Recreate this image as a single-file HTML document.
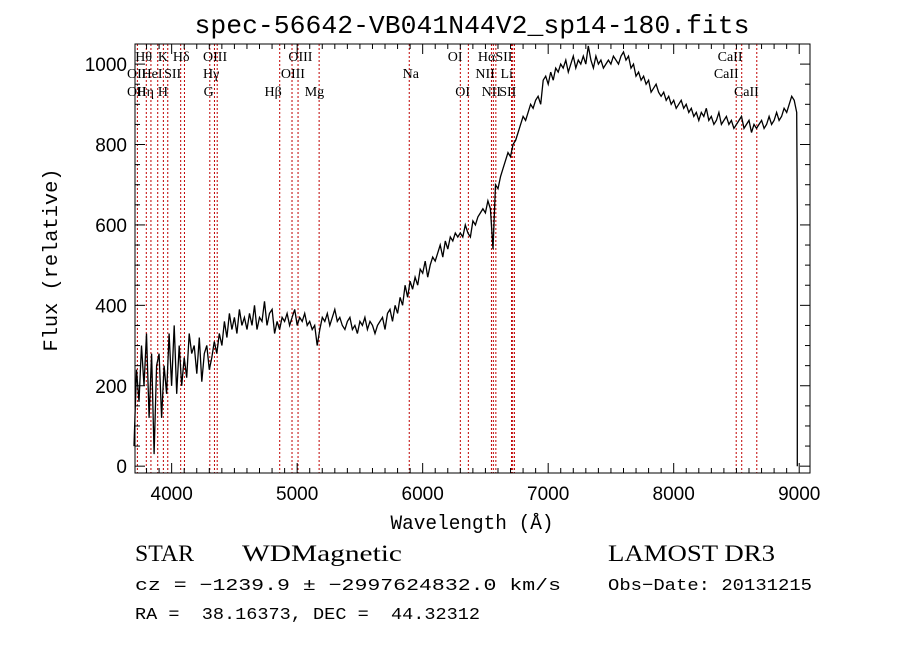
<!DOCTYPE html>
<html><head><meta charset="utf-8"><style>
html,body{margin:0;padding:0;background:#fff;}
svg{display:block;}
</style></head><body>
<svg id="chart" width="900" height="649" xmlns="http://www.w3.org/2000/svg" font-family="Liberation Mono, monospace">
<rect width="900" height="649" fill="#fff"/>
<text x="472" y="33" font-size="26" text-anchor="middle" textLength="555" lengthAdjust="spacingAndGlyphs">spec-56642-VB041N44V2_sp14-180.fits</text>
<g id="lines"></g>
<g id="labels" font-family="Liberation Serif, serif" font-size="14"></g>
<g id="axes"></g>
<path id="spec" fill="none" stroke="#000" stroke-width="1.3"/>
<rect x="135" y="44" width="675" height="429" fill="none" stroke="#000" stroke-width="1"/>
<text transform="translate(57,260) rotate(-90)" font-size="20" text-anchor="middle" textLength="183" lengthAdjust="spacingAndGlyphs">Flux (relative)</text>
<text x="472" y="529" font-size="20" text-anchor="middle" textLength="163" lengthAdjust="spacingAndGlyphs">Wavelength (Å)</text>
<text x="135" y="561" font-family="Liberation Serif, serif" font-size="23" textLength="59" lengthAdjust="spacingAndGlyphs">STAR</text>
<text x="242" y="561" font-family="Liberation Serif, serif" font-size="23" textLength="160" lengthAdjust="spacingAndGlyphs">WDMagnetic</text>
<text x="608" y="561" font-family="Liberation Serif, serif" font-size="23" textLength="167" lengthAdjust="spacingAndGlyphs">LAMOST DR3</text>
<text x="135" y="590" font-size="17" textLength="426" lengthAdjust="spacingAndGlyphs">cz = −1239.9 ± −2997624832.0 km/s</text>
<text x="608" y="590" font-size="17" textLength="204" lengthAdjust="spacingAndGlyphs">Obs−Date: 20131215</text>
<text x="135" y="619" font-size="17" textLength="345" lengthAdjust="spacingAndGlyphs" xml:space="preserve" style="white-space:pre">RA =  38.16373, DEC =  44.32312</text>
</svg>
<script>
const xTicks=[4000,5000,6000,7000,8000,9000];
const yTicks=[0,200,400,600,800,1000];
const lineWaves=[3727,3798,3835,3889,3934,3969,4072,4102,4304,4341,4363,4861,4959,5007,5175,5893,6300,6364,6548,6563,6583,6708,6717,6731,8498,8542,8662];
const labelText=["Hθ","K","Hδ","OIII","OIII","OI","HαSII","CaII","OII","HeI","SII","Hγ","OIII","Na","NII","Li","CaII","OII","Hη","H","G","Hβ","Mg","OI","NII","SII","CaII"];
const labelWave=[3710,3890,4010,4250,4930,6200,6440,8350,3600,3760,3940,4250,4870,5840,6420,6620,8320,3600,3720,3890,4255,4740,5060,6260,6470,6610,8480];
const labelRow=[0,0,0,0,0,0,0,0,1,1,1,1,1,1,1,1,1,2,2,2,2,2,2,2,2,2,2];
const waveStart=3700, waveStep=20;
const flux=[50,240,160,300,200,330,120,280,30,250,
280,120,250,180,330,200,350,180,300,200,
270,220,330,280,300,230,320,210,280,300,
240,270,310,280,330,300,360,320,380,340,
370,330,390,350,370,340,380,350,400,340,
370,360,410,350,380,390,330,360,340,370,
360,380,350,370,390,350,370,360,380,350,
360,340,350,300,340,370,360,380,350,370,
390,360,370,350,340,360,370,340,350,330,
360,350,370,340,360,350,330,350,360,370,
340,380,390,360,400,380,420,400,450,420,
460,440,470,450,490,480,510,470,500,520,
510,530,550,520,560,540,570,560,580,570,
580,570,600,580,570,610,600,620,630,640,
630,660,640,540,700,690,720,740,760,780,
770,800,810,830,850,870,860,880,900,890,
910,920,900,960,970,950,980,960,990,980,
1000,990,1010,980,1000,1020,990,1010,1000,1020,
1000,1045,1010,990,1020,1000,1010,990,1000,1010,
1000,1020,1010,1000,1020,1030,1010,1020,990,1000,
970,980,960,970,950,960,930,940,950,930,
920,930,910,920,900,910,890,900,910,890,
900,880,890,870,880,860,880,870,890,860,
870,850,860,880,850,860,870,850,860,840,
850,860,870,840,850,860,830,850,840,850,
860,840,850,870,850,860,880,860,870,890,
880,900,920,910,880,620,0];
const X0=135,X1=810,Y0=473,Y1=44,WMIN=3708,WMAX=9086,FMIN=-17,FMAX=1050;
const sx=w=>X0+(w-WMIN)/(WMAX-WMIN)*(X1-X0);
const sy=f=>Y0-(f-FMIN)/(FMAX-FMIN)*(Y0-Y1);
const NS="http://www.w3.org/2000/svg";
function mk(tag,attrs,parent){const e=document.createElementNS(NS,tag);for(const k in attrs)e.setAttribute(k,attrs[k]);parent.appendChild(e);return e;}
const axes=document.getElementById('axes');
for(let w=3800;w<=9080;w+=100){
  const major=w%1000===0;const L=major?10:5;const x=sx(w);
  const t=mk('line',{x1:x,x2:x,y1:Y0,y2:Y0-L,stroke:'#000'},axes);
  
  
  const t2=mk('line',{x1:x,x2:x,y1:Y1,y2:Y1+L,stroke:'#000'},axes);
  
  
}
xTicks.forEach(v=>{const t=mk('text',{x:sx(v),y:500,'font-size':19,'text-anchor':'middle','font-family':'Liberation Sans, sans-serif'},axes);t.textContent=v;
  
  });
for(let f=0;f<=1050;f+=50){
  const major=f%200===0;const L=major?10:5;const y=sy(f);
  const t=mk('line',{x1:X0,x2:X0+L,y1:y,y2:y,stroke:'#000'},axes);
  
  
  const t2=mk('line',{x1:X1,x2:X1-L,y1:y,y2:y,stroke:'#000'},axes);
  
  
}
yTicks.forEach(v=>{const t=mk('text',{x:127,y:sy(v)+7,'font-size':19,'text-anchor':'end','font-family':'Liberation Sans, sans-serif'},axes);t.textContent=v;
  
  });
const lg=document.getElementById('lines');
lineWaves.forEach(w=>{const l=mk('line',{x1:sx(w),x2:sx(w),y1:Y1,y2:Y0,stroke:'#c00000','stroke-width':1,'stroke-dasharray':'2,2'},lg);
  
  });
const lb=document.getElementById('labels');
const rowY=[61,78,96];
labelText.forEach((s,i)=>{const t=mk('text',{x:Math.max(127,sx(labelWave[i])),y:rowY[labelRow[i]]},lb);t.textContent=s;
  
  });
let d='';
flux.forEach((f,i)=>{const w=waveStart+i*waveStep;d+=(i?'L':'M')+sx(Math.min(w,8985)).toFixed(1)+','+sy(f).toFixed(1);});
document.getElementById('spec').setAttribute('d',d);
</script>
</body></html>
